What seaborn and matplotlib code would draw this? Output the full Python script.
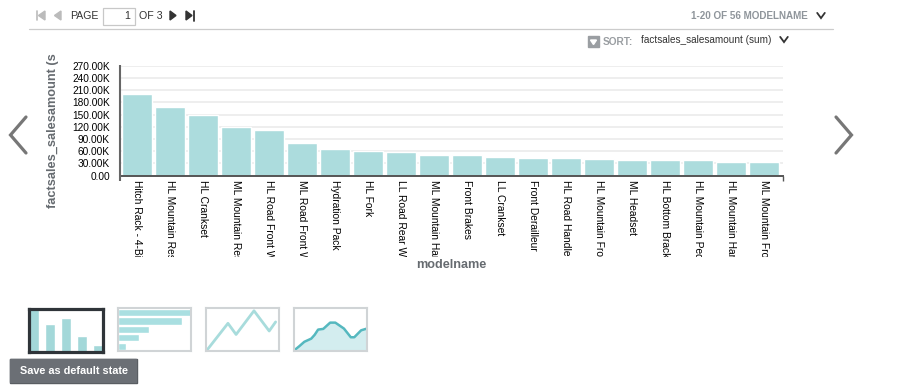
import matplotlib
matplotlib.use("Agg")
import matplotlib.pyplot as plt
from matplotlib.patches import Rectangle, Polygon
from matplotlib.transforms import Bbox
import seaborn as sns
import pandas as pd

# ---- data
models = ["Hitch Rack - 4-Bi", "HL Mountain Res", "HL Crankset", "ML Mountain Res",
          "HL Road Front W", "ML Road Front W", "Hydration Pack", "HL Fork",
          "LL Road Rear W", "ML Mountain Har", "Front Brakes", "LL Crankset",
          "Front Derailleur", "HL Road Handleb", "HL Mountain Fror", "ML Headset",
          "HL Bottom Brack", "HL Mountain Ped", "HL Mountain Har", "ML Mountain Fro"]
sales = [200900, 169000, 149000, 120000, 112500, 80500, 66000, 61000, 58500, 51000,
         51000, 46000, 43500, 43500, 41000, 38600, 38600, 38600, 33800, 33800]
y_ticks = [0, 30000, 60000, 90000, 120000, 150000, 180000, 210000, 240000, 270000]
y_labels = ["0.00", "30.00K", "60.00K", "90.00K", "120.00K", "150.00K", "180.00K",
            "210.00K", "240.00K", "270.00K"]
thumb_bar = [120, 78, 95, 43, 18]
thumb_hbar = [213, 186, 90, 60, 24]
thumb_line_x = [622, 685, 709, 762, 807, 826]
thumb_line_y = [0, 78, 46, 114, 56, 82]
thumb_area_x = [885, 900, 915, 935, 945, 955, 970, 990, 1005, 1030, 1050, 1060, 1080, 1097]
thumb_area_y = [0, 12, 25, 34, 45, 60, 62, 80, 80, 63, 38, 38, 58, 63]

W, H = 922, 392
BAR = "#acdcdd"
sns.set_theme(style="white")
plt.rcParams["font.family"] = ["Liberation Sans", "DejaVu Sans"]

fig = plt.figure(figsize=(W / 100, H / 100), dpi=100, facecolor="white")


def px_axes(x0, y0, x1, y1, **kw):
    return fig.add_axes([x0 / W, 1 - y1 / H, (x1 - x0) / W, (y1 - y0) / H], **kw)


# ---- main chart
ax = px_axes(119.5, 65.7, 783, 175.7)
df = pd.DataFrame({"modelname": models, "sales": sales})
sns.barplot(data=df, x="modelname", y="sales", color=BAR, saturation=1, width=0.9, ax=ax, zorder=3)
ax.set_xlim(-0.53, 19.575)
ax.set_ylim(0, 270000)
ax.set_yticks(y_ticks)
ax.set_yticklabels(y_labels, fontsize=7.3, color="#000000")
ax.set_xticks(range(len(models)))
ax.set_xticklabels(models, rotation=-90, ha="center", va="top", fontsize=7.35, color="#000000")
ax.tick_params(axis="x", length=0, pad=3.2)
ax.tick_params(axis="y", length=0, pad=7)
ax.grid(axis="y", color="#eeeeee", lw=1.4, zorder=0)
ax.set_axisbelow(True)
ax.set_xlabel("")
ax.set_ylabel("")
for s in ["top", "right", "left"]:
    ax.spines[s].set_visible(False)
ax.spines["bottom"].set_color("#555555")
ax.spines["bottom"].set_linewidth(1.4)
ax.spines["bottom"].set_zorder(5)
clip = Bbox.from_extents(0, H - 256.5, W, H)
for lab in ax.get_xticklabels():
    lab.set_clip_box(clip)
    lab.set_clip_on(True)

# ---- page chrome, in pixel coordinates
top = fig.add_axes([0, 0, 1, 1], zorder=10, facecolor="none")
top.set_xlim(0, W)
top.set_ylim(H, 0)
top.axis("off")

top.plot([119.5, 119.5], [65, 181], color="#666666", lw=1.5, solid_capstyle="butt")
top.plot([783, 783], [175.7, 181], color="#555555", lw=1.0, solid_capstyle="butt")
top.plot([29, 833], [28.5, 28.5], color="#cccccc", lw=0.9)

top.text(52.5, 208, "factsales_salesamount (s", rotation=90, ha="center", va="bottom",
         fontsize=9.2, fontweight="bold", color="#666b70")
top.text(451, 265, "modelname", ha="center", va="center", fontsize=9.1, fontweight="bold",
         color="#666b70")

# pager
top.plot([36.5, 36.5], [11, 20], color="#bbbbbb", lw=1.2)
top.add_patch(Polygon([[45, 11], [45, 20], [38.5, 15.5]], color="#bbbbbb"))
top.add_patch(Polygon([[61, 11], [61, 20], [54.5, 15.5]], color="#bbbbbb"))
top.text(70, 15.7, "PAGE", fontsize=7.6, va="center", color="#333333")
top.add_patch(Rectangle((102.5, 7.5), 32, 17, fc="white", ec="#c8c8c8", lw=0.9))
top.text(130, 15.7, "1", fontsize=7.7, va="center", ha="right", color="#333333")
top.text(139, 15.7, "OF 3", fontsize=7.7, va="center", color="#333333")
top.add_patch(Polygon([[170, 11], [170, 20], [176, 15.5]], color="#333333"))
top.add_patch(Polygon([[186, 11], [186, 20], [192, 15.5]], color="#333333"))
top.plot([194, 194], [11, 20.5], color="#333333", lw=1.3)
top.text(808, 15.7, "1-20 OF 56 MODELNAME", fontsize=7.1, fontweight="bold", va="center", ha="right",
         color="#8f959b")


def chevron(x, y, w=3.8, h=2.6, color="#333333", lw=1.3):
    top.plot([x - w, x, x + w], [y - h, y + h, y - h], color=color, lw=lw, solid_joinstyle="miter")


chevron(821, 15.5)
chevron(784, 39.5)
top.add_patch(Rectangle((588, 36), 11, 11, color="#9a9ea2"))
top.add_patch(Polygon([[590.5, 40], [596.5, 40], [593.5, 44.5]], color="white"))
top.text(603, 41.5, "SORT:", fontsize=7.3, fontweight="bold", va="center", color="#9a9ea2")
top.text(641, 40, "factsales_salesamount (sum)", fontsize=7.2, va="center", color="#333333")

# side arrows
top.plot([26, 10.5, 26], [117, 135, 153], color="#777777", lw=2.3, solid_joinstyle="miter")
top.plot([836, 851.5, 836], [117, 135, 153], color="#777777", lw=2.3, solid_joinstyle="miter")


# ---- thumbnails
def thumb(x0, y0, x1, y1, edge, lw):
    a = px_axes(x0, y0, x1, y1)
    a.set_xticks([])
    a.set_yticks([])
    for sp in a.spines.values():
        sp.set_color(edge)
        sp.set_linewidth(lw)
    a.set_facecolor("white")
    return a


t1 = thumb(28.5, 308.5, 102.5, 351.5, "#2f3439", 2.3)
t1.bar(range(5), thumb_bar, width=0.6, color="#a3d8d9")
t1.set_xlim(-0.33, 4.3)
t1.set_ylim(0, 122)

t2 = thumb(118, 308, 191, 350.5, "#d0d4d6", 1.5)
t2.barh(range(5), thumb_hbar, height=0.85, color="#a9dfe1")
t2.set_ylim(4.5, -0.55)
t2.set_xlim(0, 213)

t3 = thumb(206, 308, 279, 350.5, "#d0d4d6", 1.5)
t3.plot(thumb_line_x, thumb_line_y, color="#a8dcdc", lw=2.0)
t3.set_xlim(620, 836)
t3.set_ylim(0, 122)

t4 = thumb(294, 308, 367, 350.5, "#d0d4d6", 1.5)
t4.fill_between(thumb_area_x, thumb_area_y, 0, color="#d3edef")
t4.plot(thumb_area_x, thumb_area_y, color="#55b8bf", lw=1.8)
t4.set_xlim(885, 1097)
t4.set_ylim(0, 122)

# ---- button
top.add_patch(Rectangle((10, 359), 127, 24, color="#55595e"))
top.add_patch(Rectangle((10, 359), 125.5, 22.5, color="#6b6f75"))
top.text(20, 371, "Save as default state", fontsize=7.85, fontweight="bold", va="center", color="white")

fig.savefig("out.png", dpi=100)
